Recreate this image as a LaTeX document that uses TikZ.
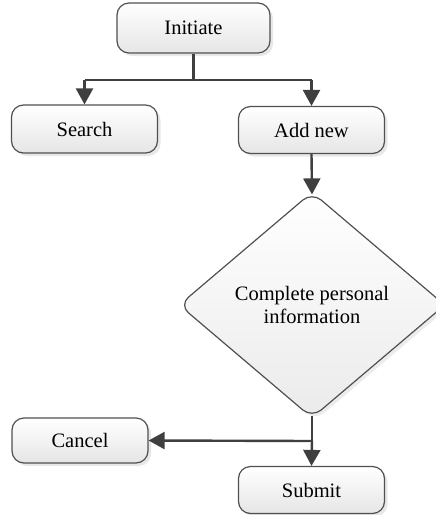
\documentclass[tikz,border=0pt]{standalone}
\usepackage{fontspec}
\setmainfont{Liberation Serif}
\usetikzlibrary{shapes.geometric,shadows,arrows.meta}

\definecolor{linegray}{HTML}{3F3F3F}
\definecolor{edgegray}{HTML}{505050}

\tikzset{
  flowbox/.style={
    draw=edgegray, line width=1.2pt, rounded corners=12pt,
    top color=white, bottom color=black!10,
    drop shadow={opacity=0.18, shadow xshift=3pt, shadow yshift=-3pt},
    minimum width=146pt, minimum height=47pt, inner sep=0pt,
    font=\fontsize{20.5}{24}\selectfont
  },
  decision/.style={
    diamond, draw=edgegray, line width=1.2pt, rounded corners=12pt,
    top color=white, bottom color=black!8,
    drop shadow={opacity=0.15, shadow xshift=3pt, shadow yshift=-3pt},
    minimum width=266pt, minimum height=226pt, inner sep=0pt,
    align=center, font=\fontsize{20.5}{24}\selectfont
  },
  flow/.style={
    draw=linegray, line width=2.4pt,
    -{Triangle[length=16pt,width=17pt]}
  },
  link/.style={draw=linegray, line width=2.4pt}
}

\begin{document}
\begin{tikzpicture}[x=1pt, y=-1pt]
  \useasboundingbox (0,0) rectangle (436,515);

  % boxes
  \node[flowbox, minimum width=153pt, minimum height=50pt] (init) at (193.5,28) {Initiate};
  \node[flowbox, minimum height=48pt] (search) at (84.5,129) {Search};
  \node[flowbox] (add) at (311.5,130) {Add new};
  \node[decision] (info) at (312,305) {Complete personal\\[-1pt]information};
  \node[flowbox, minimum width=136pt, minimum height=45pt] (cancel) at (80,440.5) {Cancel};
  \node[flowbox] (submit) at (311.5,490) {Submit};

  % branching points
  \coordinate (fork) at (193.5,80);
  \coordinate (forkL) at (84.5,80);
  \coordinate (forkR) at (311.5,80);
  \coordinate (split) at (312,441);

  % connectors
  \draw[link] (init.south) -- (fork);
  \draw[link] (forkL) -- (forkR);
  \draw[flow] (forkL) -- (search.north);
  \draw[flow] (forkR) -- (add.north);
  \draw[flow] (add.south) -- ([yshift=-3pt]info.north);
  \draw[link] ([yshift=3pt]info.south) -- (split);
  \draw[flow] (split) -- (cancel.east);
  \draw[flow] (split) -- (submit.north);
\end{tikzpicture}
\end{document}
